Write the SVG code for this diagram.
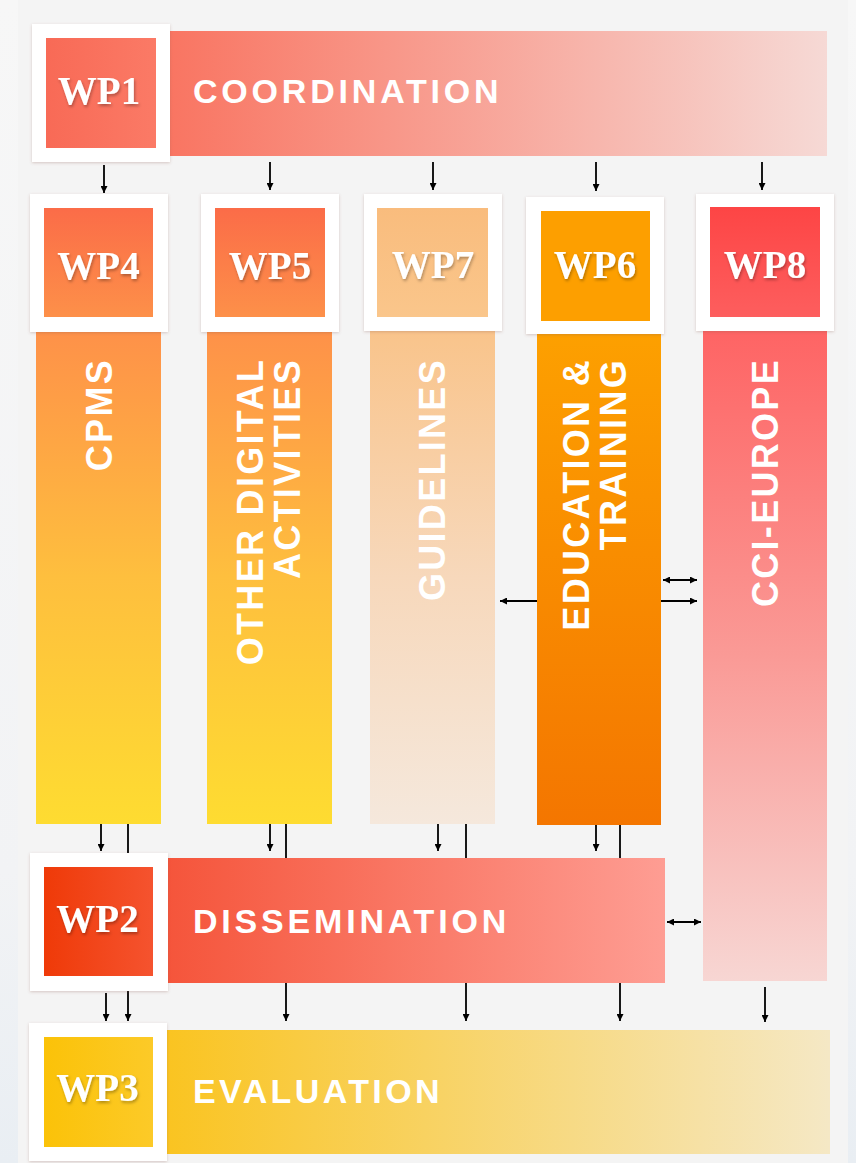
<svg xmlns="http://www.w3.org/2000/svg" width="856" height="1163" viewBox="0 0 856 1163">
  <style>
    .frame { fill: #ffffff; filter: url(#boxShadow); }
    .wp { font-family: "Liberation Serif", "DejaVu Serif", serif; font-weight: bold; font-size: 39px; fill: #ffffff; text-anchor: middle; filter: url(#txtShadow); }
    .hlab { font-family: "Liberation Sans", Arial, sans-serif; font-weight: bold; font-size: 34px; fill: #ffffff; }
    .vlab { font-family: "Liberation Sans", Arial, sans-serif; font-weight: bold; font-size: 36px; fill: #ffffff; letter-spacing: 2.3px; text-anchor: end; }
    .conn line { stroke: #000000; stroke-width: 1.8; fill: none; }
  </style>
  <defs>
    <filter id="boxShadow" x="-10%" y="-10%" width="120%" height="125%">
      <feDropShadow dx="0" dy="1" stdDeviation="1.5" flood-color="#8a5a50" flood-opacity="0.3"/>
    </filter>
    <filter id="txtShadow" x="-10%" y="-20%" width="125%" height="150%">
      <feDropShadow dx="1" dy="2" stdDeviation="1.5" flood-color="#000000" flood-opacity="0.3"/>
    </filter>
    <marker id="ah" viewBox="0 0 10 10" refX="10" refY="5" markerWidth="8" markerHeight="7" markerUnits="userSpaceOnUse" orient="auto-start-reverse">
      <path d="M0,0 L10,5 L0,10 z" fill="#000000"/>
    </marker>
    <linearGradient id="gCoord" x1="0" y1="0" x2="1" y2="0">
      <stop offset="0" stop-color="#f97562"/>
      <stop offset="1" stop-color="#f6d9d5"/>
    </linearGradient>
    <linearGradient id="gWP1" x1="0" y1="0" x2="1" y2="0">
      <stop offset="0" stop-color="#f86a56"/>
      <stop offset="1" stop-color="#fb7a66"/>
    </linearGradient>
    <linearGradient id="gWP45" x1="0" y1="0" x2="0" y2="1">
      <stop offset="0" stop-color="#fb6c48"/>
      <stop offset="1" stop-color="#fd9049"/>
    </linearGradient>
    <linearGradient id="gCol45" x1="0" y1="0" x2="0" y2="1">
      <stop offset="0" stop-color="#fe9149"/>
      <stop offset="0.5" stop-color="#febf3e"/>
      <stop offset="1" stop-color="#fedc31"/>
    </linearGradient>
    <linearGradient id="gWP7" x1="0" y1="0" x2="0" y2="1">
      <stop offset="0" stop-color="#f9bc7d"/>
      <stop offset="1" stop-color="#fac68b"/>
    </linearGradient>
    <linearGradient id="gCol7" x1="0" y1="0" x2="0" y2="1">
      <stop offset="0" stop-color="#f9c48b"/>
      <stop offset="0.5" stop-color="#f7d8bb"/>
      <stop offset="1" stop-color="#f5e8dc"/>
    </linearGradient>
    <linearGradient id="gCol6" x1="0" y1="0" x2="0" y2="1">
      <stop offset="0" stop-color="#fda000"/>
      <stop offset="1" stop-color="#f47600"/>
    </linearGradient>
    <linearGradient id="gWP8" x1="0" y1="0" x2="0" y2="1">
      <stop offset="0" stop-color="#fd4545"/>
      <stop offset="1" stop-color="#fd5e5e"/>
    </linearGradient>
    <linearGradient id="gCol8" x1="0" y1="0" x2="0" y2="1">
      <stop offset="0" stop-color="#fe6464"/>
      <stop offset="0.5" stop-color="#fa9a96"/>
      <stop offset="1" stop-color="#f7d6d3"/>
    </linearGradient>
    <linearGradient id="gWP2" x1="0" y1="0" x2="1" y2="0">
      <stop offset="0" stop-color="#ef3a08"/>
      <stop offset="1" stop-color="#f5532f"/>
    </linearGradient>
    <linearGradient id="gDiss" x1="0" y1="0" x2="1" y2="0">
      <stop offset="0" stop-color="#f5553b"/>
      <stop offset="1" stop-color="#fe9d93"/>
    </linearGradient>
    <linearGradient id="gWP3" x1="0" y1="0" x2="1" y2="0">
      <stop offset="0" stop-color="#fbc208"/>
      <stop offset="1" stop-color="#fcca28"/>
    </linearGradient>
    <linearGradient id="gEval" x1="0" y1="0" x2="1" y2="0">
      <stop offset="0" stop-color="#fac421"/>
      <stop offset="1" stop-color="#f5e8c5"/>
    </linearGradient>
    <linearGradient id="gOuter" x1="0" y1="0" x2="0" y2="1">
      <stop offset="0" stop-color="#f7f7f7"/>
      <stop offset="0.75" stop-color="#f2f3f5"/>
      <stop offset="1" stop-color="#e9eef3"/>
    </linearGradient>
  </defs>

  <!-- background -->
  <rect x="0" y="0" width="856" height="1163" fill="url(#gOuter)"/>
  <rect x="18" y="0" width="830" height="1163" fill="#f4f4f4"/>

  <!-- connectors -->
  <g id="connectors" class="conn">
    <line x1="104" y1="165" x2="104" y2="193" marker-end="url(#ah)"/>
    <line x1="270" y1="162" x2="270" y2="190" marker-end="url(#ah)"/>
    <line x1="433" y1="162" x2="433" y2="190" marker-end="url(#ah)"/>
    <line x1="596" y1="162" x2="596" y2="191" marker-end="url(#ah)"/>
    <line x1="762" y1="162" x2="762" y2="190" marker-end="url(#ah)"/>

    <line x1="537" y1="601" x2="500" y2="601" marker-end="url(#ah)"/>
    <line x1="663" y1="580" x2="697" y2="580" marker-start="url(#ah)" marker-end="url(#ah)"/>
    <line x1="661" y1="601" x2="697" y2="601" marker-end="url(#ah)"/>

    <line x1="101" y1="822" x2="101" y2="851" marker-end="url(#ah)"/>
    <line x1="270" y1="822" x2="270" y2="851" marker-end="url(#ah)"/>
    <line x1="438" y1="822" x2="438" y2="851" marker-end="url(#ah)"/>
    <line x1="596" y1="825" x2="596" y2="851" marker-end="url(#ah)"/>

    <line x1="128" y1="824" x2="128" y2="1021" marker-end="url(#ah)"/>
    <line x1="286" y1="824" x2="286" y2="1021" marker-end="url(#ah)"/>
    <line x1="466" y1="824" x2="466" y2="1021" marker-end="url(#ah)"/>
    <line x1="620" y1="825" x2="620" y2="1021" marker-end="url(#ah)"/>
    <line x1="106" y1="993" x2="106" y2="1021" marker-end="url(#ah)"/>
    <line x1="765" y1="987" x2="765" y2="1022" marker-end="url(#ah)"/>

    <line x1="667" y1="922" x2="701" y2="922" marker-start="url(#ah)" marker-end="url(#ah)"/>
  </g>

  <!-- WP1 -->
  <g id="wp1">
    <rect x="170" y="31" width="657" height="125" fill="url(#gCoord)"/>
    <text class="hlab" x="193" y="103" letter-spacing="3.8">COORDINATION</text>
    <rect class="frame" x="32" y="24" width="138" height="138"/>
    <rect x="46" y="38" width="110" height="110" fill="url(#gWP1)"/>
    <text class="wp" x="99" y="104">WP1</text>
  </g>

  <!-- WP4 -->
  <g id="wp4">
    <rect x="36" y="330" width="125" height="494" fill="url(#gCol45)"/>
    <text class="vlab" transform="translate(112,358) rotate(-90)">CPMS</text>
    <rect class="frame" x="30" y="194" width="138" height="138"/>
    <rect x="44" y="208" width="109" height="109" fill="url(#gWP45)"/>
    <text class="wp" x="98.5" y="279">WP4</text>
  </g>

  <!-- WP5 -->
  <g id="wp5">
    <rect x="207" y="330" width="125" height="494" fill="url(#gCol45)"/>
    <text class="vlab" transform="translate(263,358) rotate(-90)">OTHER DIGITAL</text>
    <text class="vlab" transform="translate(300,358) rotate(-90)">ACTIVITIES</text>
    <rect class="frame" x="201" y="194" width="138" height="138"/>
    <rect x="215" y="208" width="110" height="109" fill="url(#gWP45)"/>
    <text class="wp" x="270" y="279">WP5</text>
  </g>

  <!-- WP7 -->
  <g id="wp7">
    <rect x="370" y="330" width="125" height="494" fill="url(#gCol7)"/>
    <text class="vlab" transform="translate(445,358) rotate(-90)">GUIDELINES</text>
    <rect class="frame" x="364" y="194" width="138" height="137"/>
    <rect x="377" y="208" width="111" height="109" fill="url(#gWP7)"/>
    <text class="wp" x="433" y="278">WP7</text>
  </g>

  <!-- WP6 -->
  <g id="wp6">
    <rect x="537" y="332" width="124" height="493" fill="url(#gCol6)"/>
    <text class="vlab" transform="translate(589,358) rotate(-90)">EDUCATION &amp;</text>
    <text class="vlab" transform="translate(626,358) rotate(-90)">TRAINING</text>
    <rect class="frame" x="526" y="197" width="138" height="137"/>
    <rect x="541" y="211" width="109" height="110" fill="#fd9f00"/>
    <text class="wp" x="595" y="278">WP6</text>
  </g>

  <!-- WP8 -->
  <g id="wp8">
    <rect x="703" y="330" width="124" height="651" fill="url(#gCol8)"/>
    <text class="vlab" transform="translate(778,358) rotate(-90)">CCI-EUROPE</text>
    <rect class="frame" x="696" y="194" width="138" height="137"/>
    <rect x="710" y="207" width="110" height="110" fill="url(#gWP8)"/>
    <text class="wp" x="765" y="278">WP8</text>
  </g>

  <!-- WP2 -->
  <g id="wp2">
    <rect x="168" y="858" width="497" height="125" fill="url(#gDiss)"/>
    <text class="hlab" x="193" y="933" letter-spacing="3.8">DISSEMINATION</text>
    <rect class="frame" x="30" y="853" width="138" height="138"/>
    <rect x="44" y="867" width="109" height="109" fill="url(#gWP2)"/>
    <text class="wp" x="97.5" y="932">WP2</text>
  </g>

  <!-- WP3 -->
  <g id="wp3">
    <rect x="167" y="1030" width="663" height="124" fill="url(#gEval)"/>
    <text class="hlab" x="193" y="1103" letter-spacing="3.4">EVALUATION</text>
    <rect class="frame" x="29" y="1023" width="138" height="138"/>
    <rect x="44" y="1037" width="109" height="110" fill="url(#gWP3)"/>
    <text class="wp" x="97.5" y="1101">WP3</text>
  </g>
</svg>
